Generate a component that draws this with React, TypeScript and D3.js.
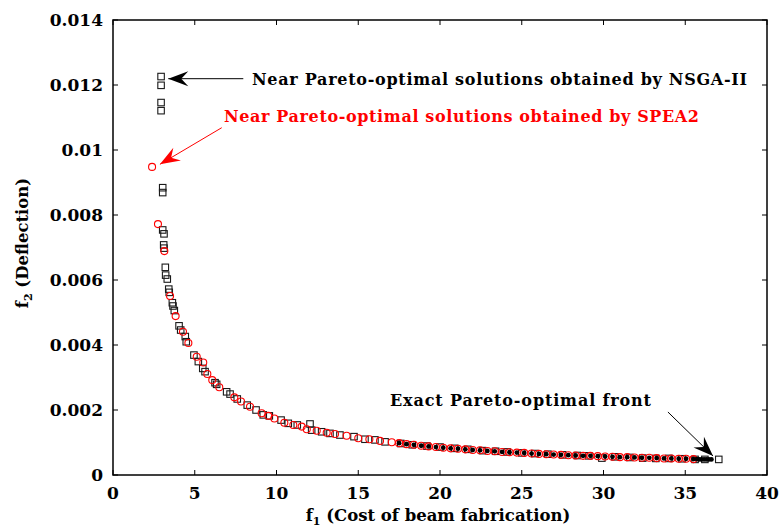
import React from "react";
import * as d3 from "d3";

// NSGA-II (black squares)
const nsgaF1 = [2.94, 2.94, 2.94, 2.94, 3.04, 3.04, 3.04, 3.12, 3.10, 3.12, 3.20, 3.22, 3.32, 3.41, 3.44, 3.63, 3.67, 3.75, 4.04, 4.14, 4.42, 4.48, 4.95, 5.22, 5.49, 5.63, 6.24, 6.34, 6.95, 7.16, 7.60, 8.21, 8.75, 9.19, 9.56, 10.28, 10.72, 11.27, 12.05, 12.15, 12.76, 13.27, 13.88, 14.74, 15.41, 16.02, 16.64, 17.6, 18.3, 19.2, 20.0, 20.9, 21.7, 22.6, 23.4, 24.1, 25.0, 25.8, 26.6, 27.5, 28.4, 29.1, 29.9, 30.7, 31.6, 32.4, 33.2, 34.0, 34.8, 35.6, 36.2, 37.05];
const nsgaF2 = [0.01226, 0.01199, 0.01146, 0.01121, 0.00884, 0.00869, 0.00754, 0.00742, 0.00708, 0.00698, 0.00639, 0.00615, 0.00603, 0.00572, 0.00562, 0.00530, 0.00520, 0.00506, 0.00459, 0.00446, 0.00426, 0.00410, 0.00369, 0.00349, 0.00328, 0.00318, 0.00284, 0.00279, 0.00256, 0.00249, 0.00234, 0.00215, 0.00200, 0.00185, 0.00182, 0.00169, 0.00159, 0.00154, 0.00157, 0.00138, 0.00133, 0.00128, 0.00123, 0.00118, 0.00110, 0.00108, 0.00102, 0.00097, 0.00093, 0.00089, 0.00086, 0.00082, 0.00079, 0.00075, 0.00073, 0.00071, 0.00068, 0.00066, 0.00064, 0.00062, 0.00060, 0.00059, 0.00052, 0.00056, 0.00054, 0.00052, 0.00051, 0.00051, 0.00050, 0.00048, 0.00048, 0.00048];

// SPEA2 (red circles)
const speaF1 = [2.39, 2.75, 3.14, 3.49, 3.83, 4.28, 4.61, 5.12, 5.52, 5.77, 6.07, 6.50, 7.42, 7.83, 8.38, 9.09, 9.50, 9.87, 10.48, 11.03, 11.54, 11.85, 12.46, 13.07, 13.58, 14.29, 15.00, 15.68, 16.33, 17.05, 17.5, 17.95, 18.4, 18.85, 19.3, 19.75, 20.2, 20.65, 21.1, 21.55, 22.0, 22.45, 22.9, 23.35, 23.8, 24.25, 24.7, 25.15, 25.6, 26.05, 26.5, 26.95, 27.4, 27.85, 28.3, 28.75, 29.2, 29.65, 30.1, 30.55, 31.0, 31.45, 31.9, 32.35, 32.8, 33.25, 33.7, 34.15, 34.6, 35.05, 35.5];
const speaF2 = [0.00948, 0.00772, 0.00689, 0.00551, 0.00489, 0.00441, 0.00406, 0.00364, 0.00346, 0.00311, 0.00292, 0.00270, 0.00239, 0.00226, 0.00210, 0.00190, 0.00182, 0.00174, 0.00161, 0.00154, 0.00149, 0.00141, 0.00136, 0.00130, 0.00126, 0.00121, 0.00113, 0.00110, 0.00105, 0.00101, 0.00098, 0.00095, 0.00093, 0.00090, 0.00088, 0.00086, 0.00084, 0.00082, 0.00081, 0.00079, 0.00077, 0.00076, 0.00074, 0.00073, 0.00071, 0.00070, 0.00069, 0.00068, 0.00066, 0.00065, 0.00064, 0.00063, 0.00062, 0.00061, 0.00060, 0.00059, 0.00059, 0.00058, 0.00057, 0.00056, 0.00055, 0.00055, 0.00054, 0.00053, 0.00053, 0.00052, 0.00051, 0.00051, 0.00050, 0.00050, 0.00049];

// Exact Pareto-optimal front (black dots)
const exactF1 = [17.5, 17.95, 18.4, 18.85, 19.3, 19.75, 20.2, 20.65, 21.1, 21.55, 22.0, 22.45, 22.9, 23.35, 23.8, 24.25, 24.7, 25.15, 25.6, 26.05, 26.5, 26.95, 27.4, 27.85, 28.3, 28.75, 29.2, 29.65, 30.1, 30.55, 31.0, 31.45, 31.9, 32.35, 32.8, 33.25, 33.7, 34.15, 34.6, 35.05, 35.5, 35.7, 35.85, 36.0, 36.15, 36.3, 36.45, 36.6];
const exactF2 = [0.00098, 0.00095, 0.00093, 0.00090, 0.00088, 0.00086, 0.00084, 0.00082, 0.00081, 0.00079, 0.00077, 0.00076, 0.00074, 0.00073, 0.00071, 0.00070, 0.00069, 0.00068, 0.00066, 0.00065, 0.00064, 0.00063, 0.00062, 0.00061, 0.00060, 0.00059, 0.00059, 0.00058, 0.00057, 0.00056, 0.00055, 0.00055, 0.00054, 0.00053, 0.00053, 0.00052, 0.00051, 0.00051, 0.00050, 0.00050, 0.00049, 0.00049, 0.00048, 0.00048, 0.00048, 0.00048, 0.00048, 0.00048];

const xTicks = [0, 5, 10, 15, 20, 25, 30, 35, 40];
const yTicks = [0, 0.002, 0.004, 0.006, 0.008, 0.01, 0.012, 0.014];
const yTickLabels = ["0", "0.002", "0.004", "0.006", "0.008", "0.01", "0.012", "0.014"];

const FONT = "'DejaVu Serif', serif";

function arrowHead(x1: number, y1: number, x2: number, y2: number, len: number, half: number, notch: number) {
  const a = Math.atan2(y2 - y1, x2 - x1);
  const ux = Math.cos(a), uy = Math.sin(a);
  const px = -uy, py = ux;
  const bx = x2 - ux * len, by = y2 - uy * len;
  const nx = x2 - ux * (len - notch), ny = y2 - uy * (len - notch);
  return `M${x2},${y2} L${bx + px * half},${by + py * half} L${nx},${ny} L${bx - px * half},${by - py * half} Z`;
}

export default function App() {
  const W = 779, H = 527;
  const left = 113, right = 767, top = 20, bottom = 475;
  const x = d3.scaleLinear().domain([0, 40]).range([left, right]);
  const y = d3.scaleLinear().domain([0, 0.014]).range([bottom, top]);
  const tl = 5;
  const sq = 6.5;

  const arrows = [
    { from: [7.97, 0.012194], to: [3.38, 0.012194], color: "#000", w: 1 },
    { from: [6.65, 0.010686], to: [2.87, 0.00956], color: "#ff0000", w: 1 },
    { from: [33.94, 0.001938], to: [36.7, 0.000585], color: "#000", w: 1 },
  ];

  return (
    <svg width={W} height={H} style={{ position: "absolute", left: 0, top: 0, background: "#fff" }}>
      <rect x={0} y={0} width={W} height={H} fill="#fff" />
      {/* NSGA-II squares */}
      <g fill="none" stroke="#1a1a1a" strokeWidth={1.1}>
        {nsgaF1.map((v, i) => (
          <rect key={i} x={x(v) - sq / 2} y={y(nsgaF2[i]) - sq / 2} width={sq} height={sq} />
        ))}
      </g>
      {/* SPEA2 circles */}
      <g fill="none" stroke="#ff0000" strokeWidth={1.1}>
        {speaF1.map((v, i) => (
          <circle key={i} cx={x(v)} cy={y(speaF2[i])} r={3.5} />
        ))}
      </g>
      {/* Exact front */}
      <g fill="#000">
        {exactF1.map((v, i) => (
          <circle key={i} cx={x(v)} cy={y(exactF2[i])} r={2.4} />
        ))}
      </g>
      {/* frame */}
      <rect x={left} y={top} width={right - left} height={bottom - top} fill="none" stroke="#000" strokeWidth={1.5} />
      <g stroke="#000" strokeWidth={1}>
        {xTicks.map((t) => (
          <g key={t}>
            <line x1={x(t)} x2={x(t)} y1={bottom} y2={bottom - tl} />
            <line x1={x(t)} x2={x(t)} y1={top} y2={top + tl} />
          </g>
        ))}
        {yTicks.map((t) => (
          <g key={t}>
            <line x1={left} x2={left + tl} y1={y(t)} y2={y(t)} />
            <line x1={right} x2={right - tl} y1={y(t)} y2={y(t)} />
          </g>
        ))}
      </g>
      <g fontFamily={FONT} fontWeight="bold" fontSize={17} fill="#000">
        {xTicks.map((t) => (
          <text key={t} x={x(t)} y={499} textAnchor="middle">{t}</text>
        ))}
        {yTicks.map((t, i) => (
          <text key={t} x={left - 10} y={y(t) + 6} textAnchor="end">{yTickLabels[i]}</text>
        ))}
      </g>
      {/* axis labels */}
      <text x={438} y={521} textAnchor="middle" fontFamily={FONT} fontWeight="bold" fontSize={16.5}>
        f<tspan fontSize={11} dy={4}>1</tspan><tspan dy={-4}> (Cost of beam fabrication)</tspan>
      </text>
      <text transform={`translate(28,243) rotate(-90)`} textAnchor="middle" fontFamily={FONT} fontWeight="bold" fontSize={16.5}>
        f<tspan fontSize={11} dy={4}>2</tspan><tspan dy={-4}> (Deflection)</tspan>
      </text>
      {/* arrows */}
      {arrows.map((a, i) => {
        const x1 = x(a.from[0]), y1 = y(a.from[1]), x2 = x(a.to[0]), y2 = y(a.to[1]);
        return (
          <g key={i}>
            <line x1={x1} y1={y1} x2={x2} y2={y2} stroke={a.color} strokeWidth={a.w} />
            <path d={arrowHead(x1, y1, x2, y2, 20, 7.5, 7)} fill={a.color} />
          </g>
        );
      })}
      {/* annotations */}
      <g fontFamily={FONT} fontWeight="bold" fontSize={16}>
        <text x={252} y={85} fill="#000" textLength={495} lengthAdjust="spacing">Near Pareto-optimal solutions obtained by NSGA-II</text>
        <text x={224} y={122} fill="#ff0000" textLength={475} lengthAdjust="spacing">Near Pareto-optimal solutions obtained by SPEA2</text>
        <text x={390} y={406} fill="#000" textLength={261} lengthAdjust="spacing">Exact Pareto-optimal front</text>
      </g>
    </svg>
  );
}
